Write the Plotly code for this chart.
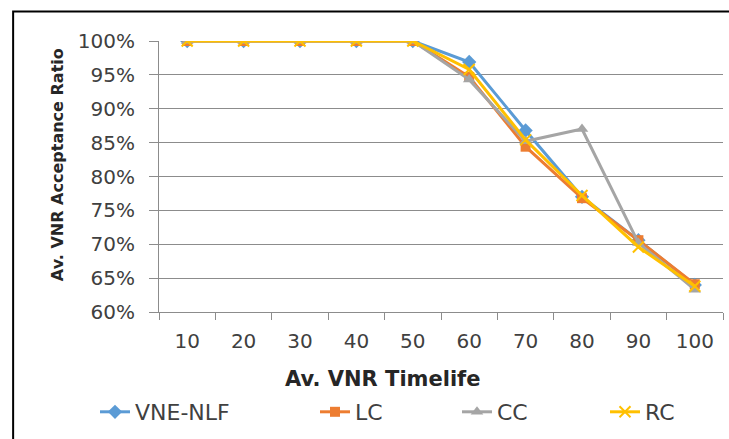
import plotly.graph_objects as go

categories = ["10", "20", "30", "40", "50", "60", "70", "80", "90", "100"]
vne_nlf = [100, 100, 100, 100, 100, 96.9, 86.8, 77.0, 70.6, 64.0]
lc = [100, 100, 100, 100, 100, 94.7, 84.4, 76.8, 70.6, 64.1]
cc = [100, 100, 100, 100, 100, 94.3, 85.2, 87.0, 70.2, 63.3]
rc = [100, 100, 100, 100, 100, 95.8, 85.4, 77.2, 69.6, 63.8]

series = [
    ("VNE-NLF", vne_nlf, "#5B9BD5", "diamond", 11),
    ("LC", lc, "#ED7D31", "square", 10),
    ("CC", cc, "#A5A5A5", "triangle-up", 11),
    ("RC", rc, "#FFC000", "x-thin", 11),
]

W, H = 729, 439
L, R, T, B = 159, 723.5, 40.5, 312.5

fig = go.Figure()
legend_text_x = [137, 357, 499, 647]
for i, (name, vals, color, sym, size) in enumerate(series):
    lname = "legend" if i == 0 else f"legend{i+1}"
    marker = dict(symbol=sym, size=size, color=color)
    if sym == "x-thin":
        marker["line"] = dict(color=color, width=2)
    fig.add_trace(go.Scatter(
        x=categories, y=vals, name=name, mode="lines+markers",
        line=dict(color=color, width=3),
        marker=marker,
        legend=lname,
    ))

font_main = "DejaVu Sans"
legend_common = dict(
    orientation="h", xref="container", yref="container",
    yanchor="middle", xanchor="left",
    bgcolor="rgba(0,0,0,0)", borderwidth=0,
    font=dict(family=font_main, size=22, color="#404040"),
    itemwidth=30,
)
layout_legends = {}
for i, tx in enumerate(legend_text_x):
    lname = "legend" if i == 0 else f"legend{i+1}"
    layout_legends[lname] = dict(legend_common, x=(tx - 42) / W, y=1 - 412 / H)

fig.update_layout(
    width=W, height=H,
    margin=dict(l=L, r=W - R, t=T, b=H - B),
    paper_bgcolor="white", plot_bgcolor="white",
    showlegend=True,
    **layout_legends,
    xaxis=dict(
        type="category", range=[-0.5, 9.5],
        showline=True, linecolor="#8c8c8c", linewidth=1,
        ticks="outside", tickson="boundaries", ticklen=7, tickcolor="#8c8c8c",
        showgrid=False, zeroline=False,
        tickfont=dict(family=font_main, size=20, color="#404040"),
        ticklabelstandoff=11,
    ),
    yaxis=dict(
        range=[60, 100], dtick=5, tickformat="d", ticksuffix="%",
        showline=True, linecolor="#8c8c8c", linewidth=1,
        ticks="outside", ticklen=9, tickcolor="#8c8c8c",
        showgrid=True, gridcolor="#8c8c8c", gridwidth=1,
        zeroline=False,
        tickfont=dict(family=font_main, size=20, color="#404040"),
        ticklabelstandoff=10,
    ),
)

fig.add_annotation(
    text="<b>Av. VNR Timelife</b>", xref="paper", yref="paper",
    x=(383 - L) / (R - L), y=(B - 380) / (B - T),
    showarrow=False, xanchor="center", yanchor="middle",
    font=dict(family=font_main, size=21, color="#262626"),
)
fig.add_annotation(
    text="<b>Av. VNR Acceptance Ratio</b>", xref="paper", yref="paper",
    x=(57 - L) / (R - L), y=(B - 165) / (B - T), textangle=-90,
    showarrow=False, xanchor="center", yanchor="middle",
    font=dict(family=font_main, size=16, color="#262626"),
)
# outer frame (top and left edges visible)
fig.add_shape(
    type="rect", xref="paper", yref="paper",
    x0=(13 - L) / (R - L), x1=(W + 20 - L) / (R - L),
    y0=(B - H - 20) / (B - T), y1=(B - 11) / (B - T),
    line=dict(color="black", width=2), fillcolor="rgba(0,0,0,0)", layer="below",
)

fig.write_html("out.html")
